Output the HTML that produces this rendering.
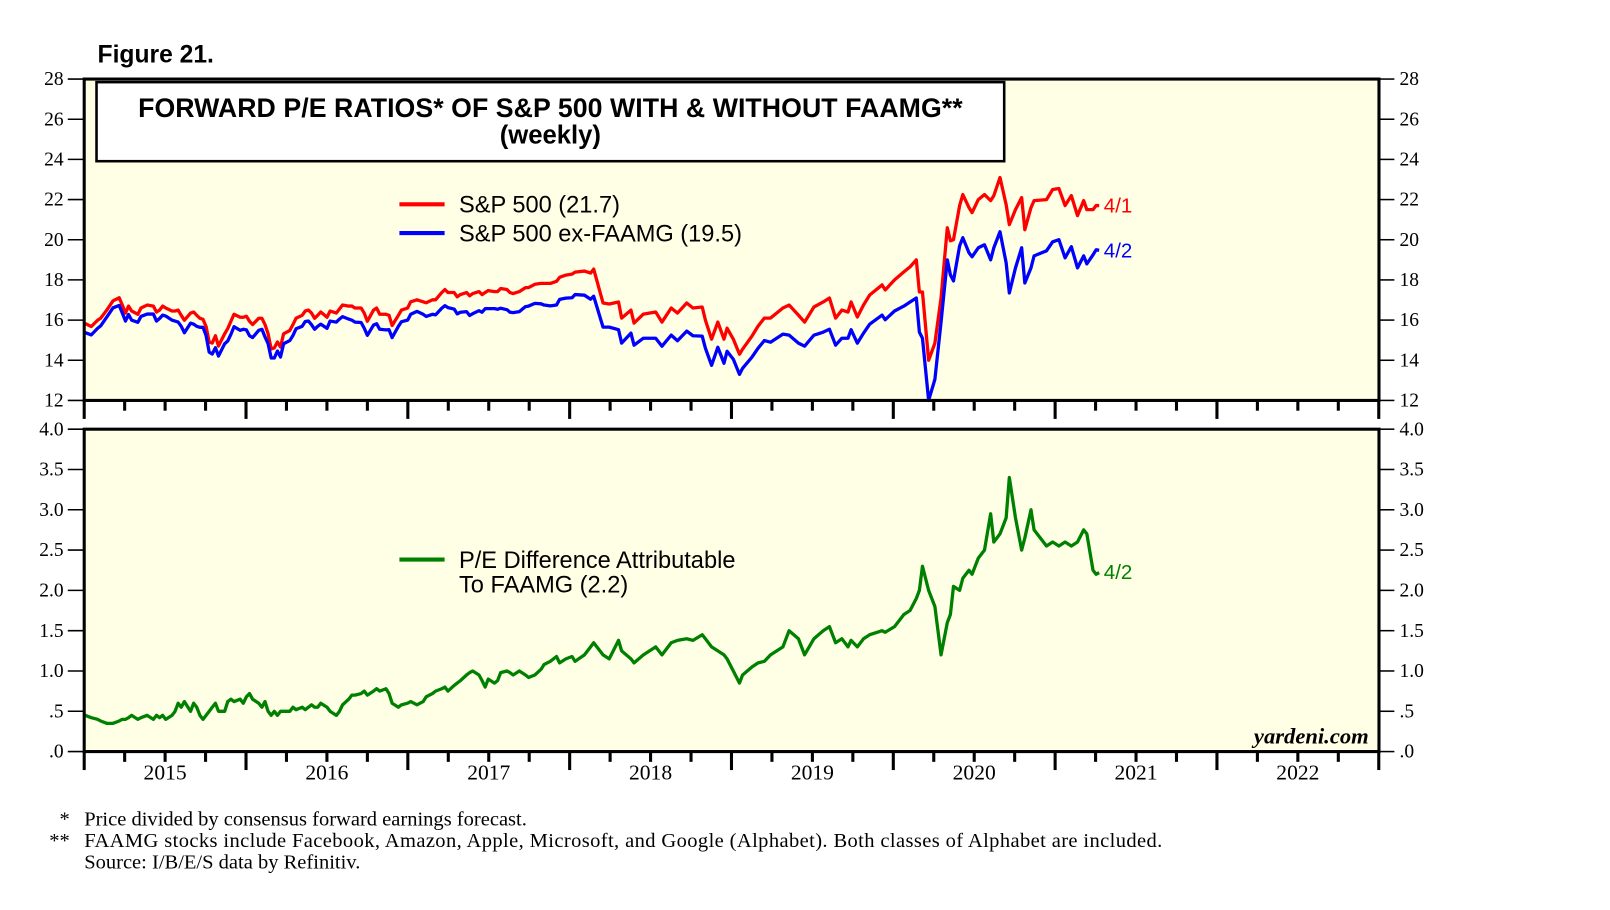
<!DOCTYPE html>
<html><head><meta charset="utf-8"><style>
body{margin:0;background:#fff;}
svg{display:block;font-family:"Liberation Serif",serif;}
.s{font-family:"Liberation Sans",sans-serif;}
</style></head><body>
<svg id="chart" width="1610" height="910" viewBox="0 0 1568 886.3" preserveAspectRatio="none" xmlns="http://www.w3.org/2000/svg">
<text class="s" x="95" y="61" font-size="24" font-weight="bold">Figure 21.</text>
<rect x="82" y="77" width="1261" height="313" fill="#ffffe6"/>
<rect x="82" y="418" width="1261" height="314" fill="#ffffe6"/>
<g id="axes"></g>
<g id="series"></g>
<rect x="82" y="77" width="1261" height="313" fill="none" stroke="#000" stroke-width="3"/>
<rect x="82" y="418" width="1261" height="314" fill="none" stroke="#000" stroke-width="3"/>
<rect x="94" y="80" width="884" height="77" fill="#fff" stroke="#000" stroke-width="2.5"/>
<text class="s" x="536" y="114" font-size="26" font-weight="bold" text-anchor="middle" textLength="803">FORWARD P/E RATIOS* OF S&amp;P 500 WITH &amp; WITHOUT FAAMG**</text>
<text class="s" x="536" y="140" font-size="25" font-weight="bold" text-anchor="middle">(weekly)</text>
<line x1="389" y1="199" x2="433" y2="199" stroke="#f00" stroke-width="4"/>
<text class="s" x="447" y="207" font-size="23">S&amp;P 500 (21.7)</text>
<line x1="389" y1="227" x2="433" y2="227" stroke="#00f" stroke-width="4"/>
<text class="s" x="447" y="235" font-size="23">S&amp;P 500 ex-FAAMG (19.5)</text>
<line x1="389" y1="545" x2="433" y2="545" stroke="#008000" stroke-width="4"/>
<text class="s" x="447" y="553" font-size="23">P/E Difference Attributable</text>
<text class="s" x="447" y="577" font-size="23">To FAAMG (2.2)</text>
<text class="s" x="1075" y="207" font-size="20" fill="#f00">4/1</text>
<text class="s" x="1075" y="251" font-size="20" fill="#00f">4/2</text>
<text class="s" x="1075" y="564" font-size="20" fill="#008000">4/2</text>
<text x="1333" y="724" font-size="22" font-weight="bold" font-style="italic" text-anchor="end">yardeni.com</text>
<text x="58" y="804" font-size="20">*</text>
<text x="82" y="804" font-size="20">Price divided by consensus forward earnings forecast.</text>
<text x="48" y="825" font-size="20">**</text>
<text x="82" y="825" font-size="20" textLength="1050">FAAMG stocks include Facebook, Amazon, Apple, Microsoft, and Google (Alphabet). Both classes of Alphabet are included.</text>
<text x="82" y="846" font-size="20">Source: I/B/E/S data by Refinitiv.</text>
</svg>
<script>
const weeks=[0,2,4,5,7,9,11,12,13,14,15,17,18,20,22,23,24,25,26,28,29,30,31,32,34,35,36,37,38,39,40,41,42,43,45,46,47,48,50,51,52,53,54,56,57,58,59,60,61,62,63,64,66,67,68,70,71,72,73,74,75,76,78,79,81,82,83,85,86,87,89,90,91,93,94,95,97,98,99,101,102,104,105,107,109,110,112,113,115,116,117,119,120,121,123,124,125,127,128,129,130,132,133,134,136,137,138,140,142,143,145,147,148,150,152,153,155,157,158,161,163,164,167,169,172,173,176,177,180,184,186,189,191,194,196,199,200,202,204,206,207,209,211,212,215,217,219,221,225,227,230,232,235,238,240,242,244,246,247,249,251,253,257,258,261,264,266,268,269,270,272,274,276,278,279,280,282,283,285,286,288,290,292,293,295,297,298,300,302,303,305,306,310,312,314,316,318,320,322,323,325,326,327];
const spx=[15.83,15.68,15.99,16.09,16.50,16.96,17.11,16.75,16.35,16.70,16.45,16.29,16.60,16.75,16.70,16.40,16.50,16.70,16.60,16.45,16.45,16.50,16.24,15.99,16.35,16.40,16.24,16.09,16.04,15.68,14.91,14.86,15.22,14.71,15.32,15.58,15.94,16.29,16.14,16.14,16.19,15.94,15.78,16.09,16.09,15.78,15.32,14.56,14.61,14.91,14.66,15.32,15.48,15.78,16.09,16.24,16.45,16.50,16.35,16.09,16.24,16.40,16.14,16.45,16.35,16.55,16.75,16.70,16.70,16.60,16.60,16.35,15.94,16.50,16.60,16.29,16.29,16.24,15.73,16.24,16.50,16.60,16.91,17.01,16.91,16.86,17.01,17.01,17.37,17.52,17.37,17.37,17.16,17.27,17.37,17.21,17.32,17.42,17.27,17.37,17.47,17.42,17.42,17.57,17.52,17.37,17.32,17.42,17.62,17.62,17.78,17.83,17.83,17.83,17.93,18.13,18.24,18.29,18.39,18.44,18.34,18.54,16.85,16.80,16.90,16.10,16.50,15.85,16.30,16.40,15.90,16.60,16.35,16.85,16.60,16.65,16.00,15.05,15.90,15.05,15.60,15.05,14.30,14.55,15.20,15.70,16.10,16.10,16.60,16.75,16.25,15.90,16.65,16.90,17.10,16.10,16.50,16.40,16.90,16.15,16.75,17.25,17.75,17.50,18.00,18.40,18.65,19.00,17.40,17.40,14.00,14.85,17.10,20.60,19.95,20.00,21.70,22.25,21.60,21.35,22.00,22.25,21.95,22.20,23.10,21.75,20.75,21.50,22.10,20.50,21.60,21.95,22.00,22.50,22.55,21.70,22.20,21.20,21.95,21.50,21.50,21.70,21.70];
const exFaamg=[15.38,15.26,15.59,15.71,16.15,16.61,16.73,16.35,15.95,16.28,16.00,15.89,16.18,16.30,16.30,15.95,16.08,16.25,16.20,16.00,15.95,15.90,15.69,15.37,15.85,15.80,15.69,15.64,15.64,15.23,14.41,14.31,14.62,14.21,14.82,14.96,15.29,15.67,15.49,15.54,15.51,15.22,15.13,15.49,15.54,15.16,14.82,14.11,14.11,14.46,14.16,14.82,14.98,15.23,15.57,15.69,15.93,15.95,15.77,15.54,15.69,15.80,15.59,15.95,15.90,16.05,16.17,16.05,16.00,15.90,15.88,15.60,15.24,15.75,15.82,15.54,15.51,15.52,15.13,15.69,15.92,16.00,16.29,16.43,16.29,16.18,16.29,16.26,16.59,16.72,16.62,16.55,16.31,16.39,16.42,16.23,16.32,16.47,16.39,16.57,16.57,16.57,16.54,16.59,16.52,16.39,16.37,16.42,16.67,16.70,16.83,16.81,16.75,16.71,16.75,17.03,17.09,17.11,17.27,17.24,17.04,17.19,15.65,15.65,15.52,14.85,15.35,14.75,15.10,15.10,14.70,15.25,14.97,15.45,15.22,15.20,14.60,13.75,14.65,13.85,14.45,14.05,13.30,13.60,14.15,14.60,14.98,14.90,15.30,15.25,14.85,14.70,15.25,15.40,15.55,14.75,15.10,15.10,15.52,14.85,15.35,15.80,16.25,16.02,16.45,16.70,16.90,17.10,15.40,15.10,12.00,13.05,15.90,19.00,18.25,17.95,19.70,20.10,19.35,19.15,19.60,19.75,19.00,19.60,20.40,18.85,17.35,18.60,19.60,17.85,18.60,19.20,19.45,19.90,20.00,19.10,19.65,18.60,19.20,18.80,19.25,19.50,19.48];
const diff=[0.45,0.42,0.40,0.38,0.35,0.35,0.38,0.40,0.40,0.42,0.45,0.40,0.42,0.45,0.40,0.45,0.42,0.45,0.40,0.45,0.50,0.60,0.55,0.62,0.50,0.60,0.55,0.45,0.40,0.45,0.50,0.55,0.60,0.50,0.50,0.62,0.65,0.62,0.65,0.60,0.68,0.72,0.65,0.60,0.55,0.62,0.50,0.45,0.50,0.45,0.50,0.50,0.50,0.55,0.52,0.55,0.52,0.55,0.58,0.55,0.55,0.60,0.55,0.50,0.45,0.50,0.58,0.65,0.70,0.70,0.72,0.75,0.70,0.75,0.78,0.75,0.78,0.72,0.60,0.55,0.58,0.60,0.62,0.58,0.62,0.68,0.72,0.75,0.78,0.80,0.75,0.82,0.85,0.88,0.95,0.98,1.00,0.95,0.88,0.80,0.90,0.85,0.88,0.98,1.00,0.98,0.95,1.00,0.95,0.92,0.95,1.02,1.08,1.12,1.18,1.10,1.15,1.18,1.12,1.20,1.30,1.35,1.20,1.15,1.38,1.25,1.15,1.10,1.20,1.30,1.20,1.35,1.38,1.40,1.38,1.45,1.40,1.30,1.25,1.20,1.15,1.00,0.85,0.95,1.05,1.10,1.12,1.20,1.30,1.50,1.40,1.20,1.40,1.50,1.55,1.35,1.40,1.30,1.38,1.30,1.40,1.45,1.50,1.48,1.55,1.70,1.75,1.90,2.00,2.30,2.00,1.80,1.20,1.60,1.70,2.05,2.00,2.15,2.25,2.20,2.40,2.50,2.95,2.60,2.70,2.90,3.40,2.90,2.50,2.65,3.00,2.75,2.55,2.60,2.55,2.60,2.55,2.60,2.75,2.70,2.25,2.20,2.22];
const upperTicks=[12,14,16,18,20,22,24,26,28];
const lowerTicks=[0,0.5,1,1.5,2,2.5,3,3.5,4];
const lowerTickLabels=[".0",".5","1.0","1.5","2.0","2.5","3.0","3.5","4.0"];
const years=[2015,2016,2017,2018,2019,2020,2021,2022];

const NS="http://www.w3.org/2000/svg";
const X0=82,YW=157.6;
function xWeek(w){return X0+(w+0.3)*YW/52.18;}
function xYear(y){return X0+(y-2015)*YW;}
function yUp(v){return 390-(v-12)*313/16;}
function yLo(v){return 732-v*314/4;}
function mk(tag,attrs,parent){const e=document.createElementNS(NS,tag);for(const k in attrs)e.setAttribute(k,attrs[k]);parent.appendChild(e);return e;}
const axes=document.getElementById('axes');
const series=document.getElementById('series');

upperTicks.forEach(v=>{
  const y=yUp(v);
  const l1=mk('line',{x1:66,y1:y,x2:82,y2:y,stroke:'#000','stroke-width':1.5},axes);
  
  
  const l2=mk('line',{x1:1343,y1:y,x2:1358,y2:y,stroke:'#000','stroke-width':1.5},axes);
  
  
  const t1=mk('text',{x:62,y:y+6,'font-size':19,'text-anchor':'end'},axes);t1.textContent=v;
  
  
  const t2=mk('text',{x:1363,y:y+6,'font-size':19},axes);t2.textContent=v;
  
  
});
lowerTicks.forEach((v,i)=>{
  const y=yLo(v);
  const l1=mk('line',{x1:66,y1:y,x2:82,y2:y,stroke:'#000','stroke-width':1.5},axes);
  
  
  const l2=mk('line',{x1:1343,y1:y,x2:1358,y2:y,stroke:'#000','stroke-width':1.5},axes);
  
  
  const t1=mk('text',{x:62,y:y+6,'font-size':19,'text-anchor':'end'},axes);t1.textContent=lowerTickLabels[i];
  
  
  const t2=mk('text',{x:1363,y:y+6,'font-size':19},axes);t2.textContent=lowerTickLabels[i];
  
  
});
for(let q=0;q<=32;q++){
  const x=X0+q*YW/4;const big=q%4===0;
  [390,732].forEach(by=>{
    const l=mk('line',{x1:x,y1:by,x2:x,y2:by+(big?18:10),stroke:'#000','stroke-width':3},axes);
    
    
  });
}
years.forEach(yr=>{
  const t=mk('text',{x:xYear(yr)+YW/2,y:759,'font-size':21,'text-anchor':'middle'},axes);t.textContent=yr;
  
  
});
function line(vals,yf,color,name){
  const d=vals.map((v,i)=>(i?'L':'M')+xWeek(weeks[i]).toFixed(1)+','+yf(v).toFixed(1)).join('');
  const p=mk('path',{d:d,fill:'none',stroke:color,'stroke-width':3.2,'stroke-linejoin':'round'},series);
  
  
}
line(spx,yUp,'#f00','sp500-line');
line(exFaamg,yUp,'#00f','sp500-ex-faamg-line');
line(diff,yLo,'#008000','faamg-difference-line');
</script>
</body></html>
